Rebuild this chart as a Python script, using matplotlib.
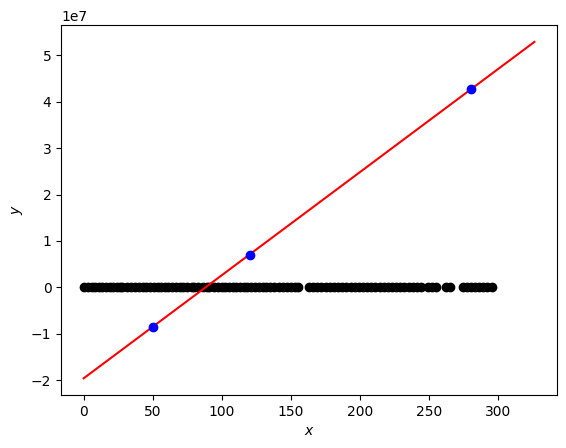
import matplotlib
matplotlib.use("Agg")
import matplotlib.pyplot as plt

# black samples lying on y = 0
noise_x = [0, 3, 6, 8, 11, 13, 16, 19, 21, 24, 26, 28, 31, 34, 37, 40, 43, 45, 48,
           51, 54, 56, 59, 61, 64, 67, 70, 72, 75, 78, 80, 83, 86, 89, 91, 94, 97,
           100, 102, 105, 108, 110, 113, 116, 118, 121, 124, 127, 130, 132, 135,
           138, 141, 144, 147, 150, 153, 155, 163, 166, 169, 172, 175, 178, 181,
           184, 187, 190, 193, 196, 199, 202, 205, 208, 211, 214, 217, 220, 223,
           226, 229, 232, 235, 238, 241, 244, 249, 252, 255, 262, 265, 274, 277,
           280, 283, 286, 289, 292, 295]
noise_y = [0] * len(noise_x)

# three highlighted points
pts_x = [50, 120, 280]
pts_y = [-0.86e7, 0.70e7, 4.27e7]

# fitted line endpoints
line_x = [0, 326]
line_y = [-1.96e7, 5.29e7]

fig, ax = plt.subplots(figsize=(5.66, 4.48), dpi=100)
ax.plot(noise_x, noise_y, "o", color="black")
ax.plot(line_x, line_y, color="red")
ax.plot(pts_x, pts_y, "o", color="blue")
ax.set_xlabel("$x$")
ax.set_ylabel("$y$")
fig.subplots_adjust(left=0.108, right=0.984, top=0.944, bottom=0.118)
fig.savefig("out.png")
